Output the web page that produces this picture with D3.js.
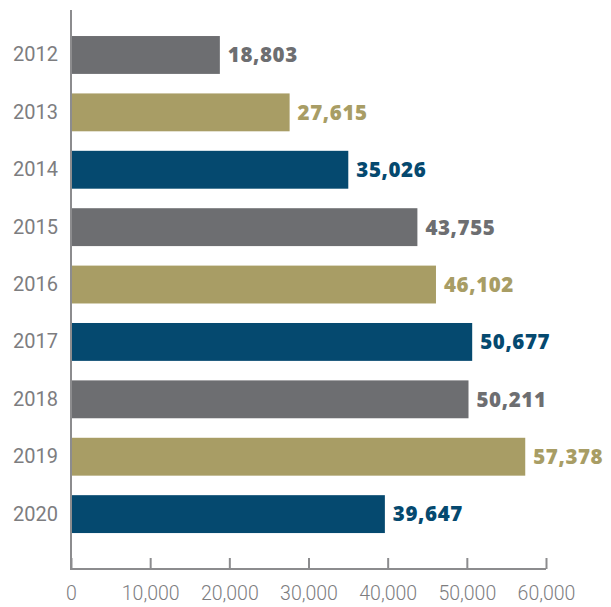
<!DOCTYPE html>
<html>
<head>
<meta charset="utf-8">
<script src="https://cdn.jsdelivr.net/npm/d3@7"></script>
<style>
  body { margin: 0; background: #fff; }
</style>
</head>
<body>
<svg id="mainSvg" width="611" height="607"></svg>
<script>
var years = ["2012", "2013", "2014", "2015", "2016", "2017", "2018", "2019", "2020"];
var values = [18803, 27615, 35026, 43755, 46102, 50677, 50211, 57378, 39647];
var xTicks = [0, 10000, 20000, 30000, 40000, 50000, 60000];
var palette = ["#6d6e71", "#a89d65", "#05496f"];

var svg = d3.select("#mainSvg");

var x = d3.scaleLinear()
    .domain([0, 60000])
    .range([71, 546]);

var y = d3.scaleBand()
    .domain(years)
    .range([10, 569])
    .paddingInner(0.34)
    .paddingOuter(0.54)
    .align(0.42);

var axisColor = "#8c8c8e";

// bars
svg.selectAll(".bar")
    .data(years)
    .enter().append("rect")
    .attr("class", "bar")
    .attr("x", x(0))
    .attr("y", function(d) { return y(d); })
    .attr("width", function(d, i) { return x(values[i]) - x(0); })
    .attr("height", y.bandwidth())
    .attr("fill", function(d, i) { return palette[i % 3]; });

// value labels
svg.selectAll(".val")
    .data(years)
    .enter().append("text")
    .attr("class", "val")
    .attr("x", function(d, i) { return x(values[i]) + 8; })
    .attr("y", function(d) { return y(d) + y.bandwidth() / 2; })
    .attr("dy", "0.36em")
    .style("font-family", "'Open Sans', sans-serif")
    .style("font-weight", "800")
    .style("font-size", "20.5px")
    .style("letter-spacing", "0.6px")
    .attr("fill", function(d, i) { return palette[i % 3]; })
    .text(function(d, i) { return d3.format(",")(values[i]); });

// x axis
var xAxis = svg.append("g")
    .attr("transform", "translate(0,569)")
    .call(d3.axisBottom(x).tickValues(xTicks).tickSize(-11).tickPadding(17).tickFormat(d3.format(",")));
xAxis.select(".domain").attr("stroke", axisColor).attr("stroke-width", 2).attr("d", "M71,0H546");
xAxis.selectAll(".tick line").attr("stroke", axisColor).attr("stroke-width", 2);
xAxis.selectAll(".tick text")
    .attr("fill", "#7d7d7f")
    .style("font-family", "Roboto, sans-serif")
    .style("font-weight", "300")
    .style("font-size", "19.5px");

// y axis
var yAxis = svg.append("g")
    .attr("transform", "translate(71,0)")
    .call(d3.axisLeft(y).tickSize(0).tickPadding(13));
yAxis.select(".domain").attr("stroke", axisColor).attr("stroke-width", 2).attr("d", "M0,10V570");
yAxis.selectAll(".tick text")
    .attr("fill", "#7d7d7f")
    .style("font-family", "Roboto, sans-serif")
    .style("font-size", "20px");
</script>
</body>
</html>
